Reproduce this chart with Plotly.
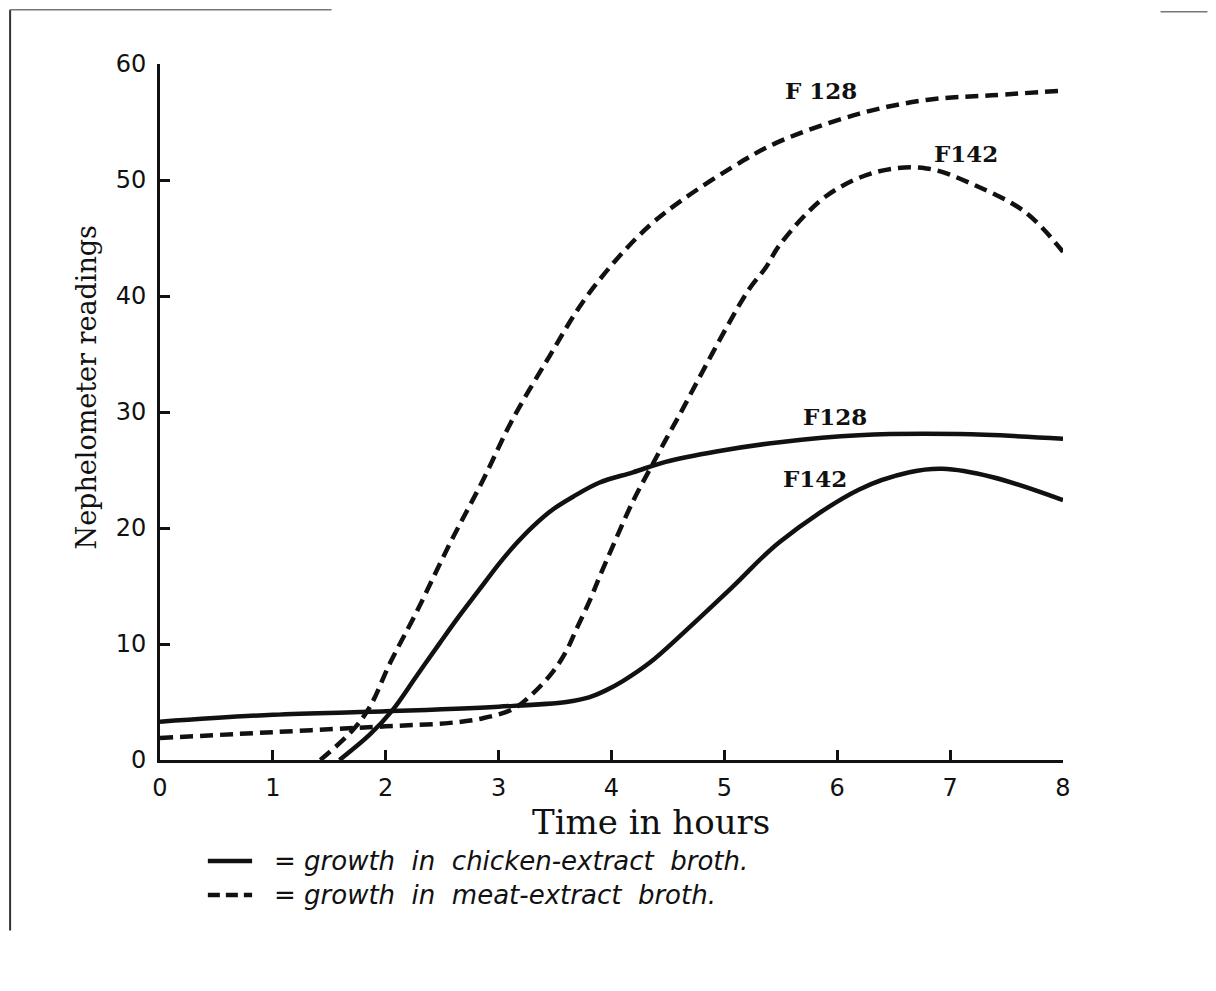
import plotly.graph_objects as go

# ---- data ----
chicken_f128_x = [1.59, 1.86, 2.06, 2.27, 2.48, 2.65, 2.83, 3.01, 3.16, 3.30, 3.48, 3.66, 3.89, 4.19, 4.48, 4.93, 5.49, 6.19, 7.08, 8.0]
chicken_f128_y = [0.0, 2.2, 4.3, 7.2, 10.1, 12.4, 14.7, 17.0, 18.7, 20.1, 21.6, 22.7, 23.9, 24.8, 25.7, 26.6, 27.4, 28.0, 28.1, 27.7]

chicken_f142_x = [0.0, 1.0, 2.0, 3.0, 3.60, 3.80, 3.95, 4.10, 4.34, 4.63, 5.07, 5.49, 6.19, 6.64, 6.93, 7.37, 8.0]
chicken_f142_y = [3.3, 3.9, 4.2, 4.6, 5.0, 5.4, 6.0, 6.8, 8.4, 10.9, 14.9, 18.8, 23.3, 24.8, 25.1, 24.4, 22.4]

meat_f128_x = [1.42, 1.71, 1.86, 2.04, 2.27, 2.57, 2.86, 3.12, 3.45, 3.74, 4.04, 4.34, 4.63, 5.07, 5.46, 6.19, 6.79, 7.37, 8.0]
meat_f128_y = [0.0, 2.6, 4.6, 8.4, 12.7, 18.7, 24.1, 29.3, 34.8, 39.4, 43.1, 46.1, 48.3, 51.1, 53.2, 55.7, 56.9, 57.3, 57.7]

meat_f142_x = [0.0, 1.0, 2.0, 2.57, 2.86, 3.13, 3.30, 3.48, 3.60, 3.69, 3.81, 3.89, 4.01, 4.19, 4.37, 4.48, 4.60, 4.78, 5.02, 5.22, 5.37, 5.49, 5.90, 6.35, 6.79, 7.23, 7.67, 8.0]
meat_f142_y = [1.9, 2.4, 2.9, 3.2, 3.6, 4.4, 5.7, 7.6, 9.4, 11.3, 13.8, 15.7, 18.4, 22.3, 25.6, 27.6, 29.7, 33.0, 37.3, 40.6, 42.5, 44.4, 48.6, 50.7, 51.0, 49.5, 47.2, 43.8]

x_ticks = [0, 1, 2, 3, 4, 5, 6, 7, 8]
y_ticks = [0, 10, 20, 30, 40, 50, 60]

labels = [
    ("F 128", 5.86, 57.7),
    ("F142", 7.14, 52.3),
    ("F128", 5.98, 29.6),
    ("F142", 5.80, 24.3),
]

NB = "\u00a0"
LEG_CHICKEN = "=" + NB + "growth" + NB * 2 + "in" + NB * 2 + "chicken-extract" + NB * 2 + "broth."
LEG_MEAT = "=" + NB + "growth" + NB * 2 + "in" + NB * 2 + "meat-extract" + NB * 2 + "broth."

BLACK = "#111111"
DASH = "13px,7px"
LW = 4.5

fig = go.Figure()
fig.add_trace(go.Scatter(x=chicken_f128_x, y=chicken_f128_y, mode="lines",
                         line=dict(color=BLACK, width=LW, shape="spline", smoothing=1.0),
                         name="F128 chicken"))
fig.add_trace(go.Scatter(x=meat_f128_x, y=meat_f128_y, mode="lines",
                         line=dict(color=BLACK, width=LW, dash=DASH, shape="spline", smoothing=1.0),
                         name="F128 meat"))
fig.add_trace(go.Scatter(x=chicken_f142_x, y=chicken_f142_y, mode="lines",
                         line=dict(color=BLACK, width=LW, shape="spline", smoothing=1.0),
                         name="F142 chicken"))
fig.add_trace(go.Scatter(x=meat_f142_x, y=meat_f142_y, mode="lines",
                         line=dict(color=BLACK, width=LW, dash=DASH, shape="spline", smoothing=1.0),
                         name="F142 meat"))

for txt, lx, ly in labels:
    fig.add_annotation(x=lx, y=ly, text=txt, showarrow=False,
                       font=dict(family="DejaVu Serif", size=23, color=BLACK, weight="bold"))

# axis titles placed as in the reference
fig.add_annotation(xref="paper", yref="paper", x=0.544, y=-0.089, xanchor="center", yanchor="middle",
                   text="Time in hours", showarrow=False,
                   font=dict(family="DejaVu Serif", size=34, color=BLACK))
fig.add_annotation(xref="paper", yref="paper", x=-0.081, y=0.535, xanchor="center", yanchor="middle",
                   text="Nephelometer readings", textangle=-90, showarrow=False,
                   font=dict(family="DejaVu Serif", size=27, color=BLACK))

# key (legend) below the chart
ROW1, ROW2 = -0.145, -0.194
fig.add_shape(type="line", xref="paper", yref="paper", x0=0.053, x1=0.102, y0=ROW1, y1=ROW1,
              line=dict(color=BLACK, width=LW))
fig.add_shape(type="line", xref="paper", yref="paper", x0=0.053, x1=0.102, y0=ROW2, y1=ROW2,
              line=dict(color=BLACK, width=LW, dash="12px,6px"))
fig.add_annotation(xref="paper", yref="paper", x=0.125, y=ROW1, xanchor="left", yanchor="middle",
                   text=LEG_CHICKEN, showarrow=False, borderpad=0,
                   font=dict(family="DejaVu Sans", size=26, color=BLACK, style="italic"))
fig.add_annotation(xref="paper", yref="paper", x=0.125, y=ROW2, xanchor="left", yanchor="middle",
                   text=LEG_MEAT, showarrow=False, borderpad=0,
                   font=dict(family="DejaVu Sans", size=26, color=BLACK, style="italic"))

# scan border remnants
fig.add_shape(type="line", xref="paper", yref="paper", x0=-0.166, x1=-0.166, y0=1.078, y1=-0.245,
              line=dict(color="#333333", width=2))
fig.add_shape(type="line", xref="paper", yref="paper", x0=-0.166, x1=0.19, y0=1.078, y1=1.078,
              line=dict(color="#777777", width=1.5))
fig.add_shape(type="line", xref="paper", yref="paper", x0=1.108, x1=1.16, y0=1.075, y1=1.075,
              line=dict(color="#777777", width=1.5))

fig.update_xaxes(range=[0, 8], tickvals=x_ticks, ticktext=[str(v) for v in x_ticks],
                 showline=True, linecolor=BLACK, linewidth=3, ticks="inside", ticklen=10,
                 tickwidth=3, tickcolor=BLACK, showgrid=False, zeroline=False,
                 ticklabelstandoff=4,
                 tickfont=dict(family="DejaVu Sans", size=24, color=BLACK))
fig.update_yaxes(range=[0, 60], tickvals=y_ticks, ticktext=[str(v) for v in y_ticks],
                 showline=True, linecolor=BLACK, linewidth=3, ticks="inside", ticklen=10,
                 tickwidth=3, tickcolor=BLACK, showgrid=False, zeroline=False,
                 ticklabelstandoff=6,
                 tickfont=dict(family="DejaVu Sans", size=24, color=BLACK))

# page body has an 8px margin, so the figure is sized/offset to land where the reference does
fig.update_layout(
    width=1200, height=975,
    margin=dict(l=152, r=145, t=56, b=223),
    paper_bgcolor="white", plot_bgcolor="white",
    showlegend=False,
)

fig.write_html("out.html")
